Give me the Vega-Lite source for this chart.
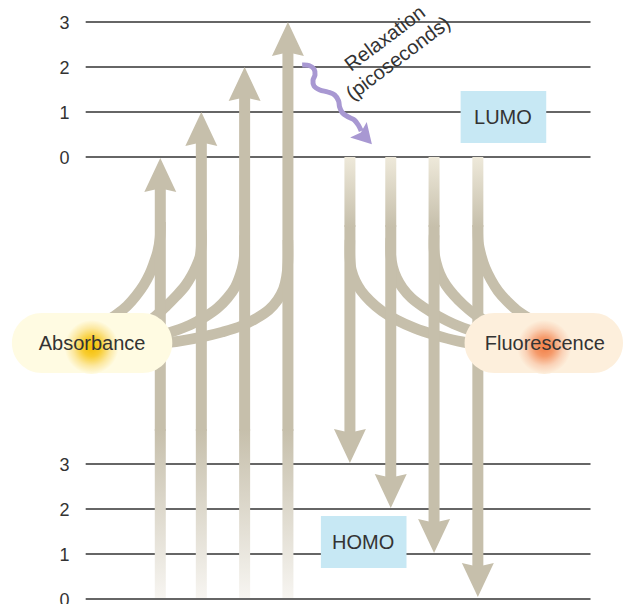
{
  "$schema": "https://vega.github.io/schema/vega-lite/v6.json",
  "width": 628,
  "height": 604,
  "autosize": {"type": "none"},
  "padding": 0,
  "background": "white",
  "config": {"view": {"stroke": null}, "font": "Liberation Sans"},
  "datasets": {
    "levels": [
      {"y": 22, "label": "3"}, {"y": 67, "label": "2"}, {"y": 112, "label": "1"}, {"y": 157, "label": "0"},
      {"y": 464, "label": "3"}, {"y": 509, "label": "2"}, {"y": 554, "label": "1"}, {"y": 599, "label": "0"}
    ],
    "curves": [
      {"c": "L1", "i": 0, "x": 158, "y": 222}, {"c": "L1", "i": 1, "x": 157.5, "y": 238}, {"c": "L1", "i": 2, "x": 155, "y": 252}, {"c": "L1", "i": 3, "x": 151, "y": 264}, {"c": "L1", "i": 4, "x": 147, "y": 274}, {"c": "L1", "i": 5, "x": 141, "y": 285}, {"c": "L1", "i": 6, "x": 133, "y": 296}, {"c": "L1", "i": 7, "x": 124, "y": 306}, {"c": "L1", "i": 8, "x": 114, "y": 314}, {"c": "L1", "i": 9, "x": 100, "y": 323},
      {"c": "L2", "i": 0, "x": 199.5, "y": 230}, {"c": "L2", "i": 1, "x": 199.5, "y": 245}, {"c": "L2", "i": 2, "x": 198, "y": 257}, {"c": "L2", "i": 3, "x": 194, "y": 267}, {"c": "L2", "i": 4, "x": 190, "y": 275}, {"c": "L2", "i": 5, "x": 183, "y": 286}, {"c": "L2", "i": 6, "x": 174, "y": 296}, {"c": "L2", "i": 7, "x": 164, "y": 306}, {"c": "L2", "i": 8, "x": 153, "y": 316}, {"c": "L2", "i": 9, "x": 140, "y": 325},
      {"c": "L3", "i": 0, "x": 243.5, "y": 235}, {"c": "L3", "i": 1, "x": 243.5, "y": 252}, {"c": "L3", "i": 2, "x": 242, "y": 264}, {"c": "L3", "i": 3, "x": 239, "y": 275}, {"c": "L3", "i": 4, "x": 234, "y": 287}, {"c": "L3", "i": 5, "x": 226, "y": 298}, {"c": "L3", "i": 6, "x": 216, "y": 308}, {"c": "L3", "i": 7, "x": 203, "y": 317}, {"c": "L3", "i": 8, "x": 188, "y": 325}, {"c": "L3", "i": 9, "x": 172, "y": 331}, {"c": "L3", "i": 10, "x": 155, "y": 336},
      {"c": "L4", "i": 0, "x": 287.5, "y": 240}, {"c": "L4", "i": 1, "x": 287.5, "y": 262}, {"c": "L4", "i": 2, "x": 286, "y": 277}, {"c": "L4", "i": 3, "x": 283, "y": 289}, {"c": "L4", "i": 4, "x": 277, "y": 300}, {"c": "L4", "i": 5, "x": 268, "y": 310}, {"c": "L4", "i": 6, "x": 256, "y": 318}, {"c": "L4", "i": 7, "x": 240, "y": 326}, {"c": "L4", "i": 8, "x": 221, "y": 332}, {"c": "L4", "i": 9, "x": 200, "y": 337}, {"c": "L4", "i": 10, "x": 178, "y": 341}, {"c": "L4", "i": 11, "x": 155, "y": 344},
      {"c": "R1", "i": 0, "x": 350.5, "y": 240}, {"c": "R1", "i": 1, "x": 350.5, "y": 258}, {"c": "R1", "i": 2, "x": 352, "y": 270}, {"c": "R1", "i": 3, "x": 356, "y": 281}, {"c": "R1", "i": 4, "x": 362, "y": 291}, {"c": "R1", "i": 5, "x": 371, "y": 301}, {"c": "R1", "i": 6, "x": 383, "y": 311}, {"c": "R1", "i": 7, "x": 398, "y": 320}, {"c": "R1", "i": 8, "x": 416, "y": 328}, {"c": "R1", "i": 9, "x": 437, "y": 335}, {"c": "R1", "i": 10, "x": 460, "y": 341}, {"c": "R1", "i": 11, "x": 485, "y": 345},
      {"c": "R2", "i": 0, "x": 392, "y": 238}, {"c": "R2", "i": 1, "x": 392, "y": 255}, {"c": "R2", "i": 2, "x": 394, "y": 267}, {"c": "R2", "i": 3, "x": 398, "y": 278}, {"c": "R2", "i": 4, "x": 404, "y": 288}, {"c": "R2", "i": 5, "x": 413, "y": 298}, {"c": "R2", "i": 6, "x": 425, "y": 307}, {"c": "R2", "i": 7, "x": 440, "y": 316}, {"c": "R2", "i": 8, "x": 456, "y": 324}, {"c": "R2", "i": 9, "x": 475, "y": 331}, {"c": "R2", "i": 10, "x": 495, "y": 336},
      {"c": "R3", "i": 0, "x": 436, "y": 235}, {"c": "R3", "i": 1, "x": 436, "y": 250}, {"c": "R3", "i": 2, "x": 438, "y": 262}, {"c": "R3", "i": 3, "x": 442, "y": 274}, {"c": "R3", "i": 4, "x": 448, "y": 285}, {"c": "R3", "i": 5, "x": 456, "y": 295}, {"c": "R3", "i": 6, "x": 466, "y": 305}, {"c": "R3", "i": 7, "x": 477, "y": 314}, {"c": "R3", "i": 8, "x": 490, "y": 322},
      {"c": "R4", "i": 0, "x": 480.5, "y": 225}, {"c": "R4", "i": 1, "x": 481, "y": 242}, {"c": "R4", "i": 2, "x": 484, "y": 256}, {"c": "R4", "i": 3, "x": 488, "y": 268}, {"c": "R4", "i": 4, "x": 494, "y": 280}, {"c": "R4", "i": 5, "x": 501, "y": 291}, {"c": "R4", "i": 6, "x": 510, "y": 301}, {"c": "R4", "i": 7, "x": 520, "y": 310}, {"c": "R4", "i": 8, "x": 532, "y": 318}
    ],
    "shaftSolid": [
      {"x": 157.8, "y": 187, "y2": 431}, {"x": 199.5, "y": 142, "y2": 431}, {"x": 243.5, "y": 97, "y2": 431}, {"x": 287.5, "y": 52, "y2": 431},
      {"x": 350.5, "y": 225, "y2": 433}, {"x": 392, "y": 225, "y2": 478}, {"x": 436, "y": 225, "y2": 523}, {"x": 480.5, "y": 225, "y2": 567}
    ],
    "shaftUpFade": [
      {"x": 157.8, "y": 429, "y2": 598}, {"x": 199.5, "y": 429, "y2": 598}, {"x": 243.5, "y": 429, "y2": 598}, {"x": 287.5, "y": 429, "y2": 598}
    ],
    "shaftDownFade": [
      {"x": 350.5, "y": 157, "y2": 227}, {"x": 392, "y": 157, "y2": 227}, {"x": 436, "y": 157, "y2": 227}, {"x": 480.5, "y": 157, "y2": 227}
    ],
    "heads": [
      {"x": 157.8, "y": 175, "dir": "up"}, {"x": 199.5, "y": 129, "dir": "up"}, {"x": 243.5, "y": 84, "dir": "up"}, {"x": 287.5, "y": 39, "dir": "up"},
      {"x": 350.5, "y": 446, "dir": "down"}, {"x": 392, "y": 491, "dir": "down"}, {"x": 436, "y": 536, "dir": "down"}, {"x": 480.5, "y": 580, "dir": "down"}
    ],
    "boxes": [
      {"name": "LUMO", "x": 463, "x2": 550, "y": 91, "y2": 143},
      {"name": "HOMO", "x": 321, "x2": 408, "y": 516, "y2": 568}
    ],
    "wave": [
      {"i": 0, "x": 302, "y": 65}, {"i": 1, "x": 309, "y": 65.5}, {"i": 2, "x": 314, "y": 69}, {"i": 3, "x": 315, "y": 75}, {"i": 4, "x": 313, "y": 80}, {"i": 5, "x": 314, "y": 86}, {"i": 6, "x": 320, "y": 90}, {"i": 7, "x": 328, "y": 92}, {"i": 8, "x": 335, "y": 95}, {"i": 9, "x": 339, "y": 101}, {"i": 10, "x": 340, "y": 107}, {"i": 11, "x": 343, "y": 113}, {"i": 12, "x": 349, "y": 117}, {"i": 13, "x": 355, "y": 120}, {"i": 14, "x": 359, "y": 125}, {"i": 15, "x": 362, "y": 131}
    ],
    "waveHead": [{"x": 366, "y": 137}],
    "relax": [
      {"text": "Relaxation", "x": 390, "y": 43.5},
      {"text": "(picoseconds)", "x": 403.5, "y": 63.5}
    ],
    "pills": [
      {"name": "Absorbance", "x": 7, "x2": 170, "y": 313, "y2": 373, "gx": 88, "gy": 347},
      {"name": "Fluorescence", "x": 467, "x2": 628, "y": 313, "y2": 373, "gx": 548, "gy": 347}
    ],
    "labels": [
      {"text": "LUMO", "x": 506, "y": 124.3},
      {"text": "HOMO", "x": 364, "y": 549.3},
      {"text": "Absorbance", "x": 88.5, "y": 350},
      {"text": "Fluorescence", "x": 548.5, "y": 350}
    ]
  },
  "layer": [
    {
      "data": {"name": "levels"},
      "mark": {"type": "rule", "color": "#333333", "strokeWidth": 1.4},
      "encoding": {
        "x": {"datum": 82, "type": "quantitative", "scale": {"domain": [0, 628], "nice": false, "zero": false}, "axis": null},
        "x2": {"datum": 595},
        "y": {"field": "y", "type": "quantitative", "scale": {"domain": [0, 604], "reverse": true, "nice": false, "zero": false}, "axis": null}
      }
    },
    {
      "data": {"name": "levels"},
      "mark": {"type": "text", "fontSize": 18, "color": "#333333", "align": "center", "baseline": "alphabetic", "dy": 6.5},
      "encoding": {
        "x": {"datum": 60.5, "type": "quantitative"},
        "y": {"field": "y", "type": "quantitative"},
        "text": {"field": "label"}
      }
    },
    {
      "data": {"name": "curves"},
      "mark": {"type": "line", "interpolate": "catmull-rom", "strokeWidth": 10.5, "color": "#c6bfab", "strokeCap": "butt"},
      "encoding": {
        "x": {"field": "x", "type": "quantitative"},
        "y": {"field": "y", "type": "quantitative"},
        "detail": {"field": "c"},
        "order": {"field": "i", "type": "quantitative"}
      }
    },
    {
      "data": {"name": "shaftSolid"},
      "mark": {"type": "bar", "size": 11, "color": "#c6bfab"},
      "encoding": {
        "x": {"field": "x", "type": "quantitative"},
        "y": {"field": "y", "type": "quantitative"},
        "y2": {"field": "y2"}
      }
    },
    {
      "data": {"name": "shaftUpFade"},
      "mark": {"type": "bar", "size": 11, "color": {"gradient": "linear", "x1": 0, "y1": 0, "x2": 0, "y2": 1, "stops": [{"offset": 0, "color": "#c6bfab"}, {"offset": 1, "color": "#f7f5f1"}]}},
      "encoding": {
        "x": {"field": "x", "type": "quantitative"},
        "y": {"field": "y", "type": "quantitative"},
        "y2": {"field": "y2"}
      }
    },
    {
      "data": {"name": "shaftDownFade"},
      "mark": {"type": "bar", "size": 11, "color": {"gradient": "linear", "x1": 0, "y1": 0, "x2": 0, "y2": 1, "stops": [{"offset": 0, "color": "#eee9da"}, {"offset": 1, "color": "#c6bfab"}]}},
      "encoding": {
        "x": {"field": "x", "type": "quantitative"},
        "y": {"field": "y", "type": "quantitative"},
        "y2": {"field": "y2"}
      }
    },
    {
      "data": {"name": "heads"},
      "mark": {"type": "point", "filled": true, "opacity": 1, "size": 1156, "color": "#c6bfab"},
      "encoding": {
        "x": {"field": "x", "type": "quantitative"},
        "y": {"field": "y", "type": "quantitative"},
        "shape": {"field": "dir", "type": "nominal", "legend": null, "scale": {"domain": ["up", "down"], "range": ["M0,-1L0.94,1L0.3,0.86L-0.3,0.86L-0.94,1Z", "M0,1L0.94,-1L0.3,-0.86L-0.3,-0.86L-0.94,-1Z"]}}
      }
    },
    {
      "data": {"name": "boxes"},
      "mark": {"type": "rect", "color": "#c7e8f4"},
      "encoding": {
        "x": {"field": "x", "type": "quantitative"},
        "x2": {"field": "x2"},
        "y": {"field": "y", "type": "quantitative"},
        "y2": {"field": "y2"}
      }
    },
    {
      "data": {"name": "wave"},
      "mark": {"type": "line", "interpolate": "catmull-rom", "strokeWidth": 5, "color": "#a898d2", "strokeCap": "butt"},
      "encoding": {
        "x": {"field": "x", "type": "quantitative"},
        "y": {"field": "y", "type": "quantitative"},
        "order": {"field": "i", "type": "quantitative"}
      }
    },
    {
      "data": {"name": "waveHead"},
      "mark": {"type": "point", "filled": true, "opacity": 1, "size": 515, "angle": 137, "color": "#a898d2", "shape": "M0,-0.87L1,0.87L0,0.55L-1,0.87Z"},
      "encoding": {
        "x": {"field": "x", "type": "quantitative"},
        "y": {"field": "y", "type": "quantitative"}
      }
    },
    {
      "data": {"name": "relax"},
      "mark": {"type": "text", "fontSize": 20, "color": "#333333", "align": "center", "baseline": "alphabetic", "angle": -37},
      "encoding": {
        "x": {"field": "x", "type": "quantitative"},
        "y": {"field": "y", "type": "quantitative"},
        "text": {"field": "text"}
      }
    },
    {
      "data": {"name": "pills"},
      "mark": {"type": "rect", "cornerRadius": 30},
      "encoding": {
        "x": {"field": "x", "type": "quantitative"},
        "x2": {"field": "x2"},
        "y": {"field": "y", "type": "quantitative"},
        "y2": {"field": "y2"},
        "color": {"field": "name", "type": "nominal", "legend": null, "scale": {"domain": ["Absorbance", "Fluorescence"], "range": ["#fffbe2", "#fdefdc"]}}
      }
    },
    {
      "data": {"name": "pills"},
      "transform": [{"filter": "datum.name === 'Absorbance'"}],
      "mark": {"type": "point", "shape": "circle", "filled": true, "opacity": 1, "size": 2916, "color": {"gradient": "radial", "x1": 0.5, "y1": 0.5, "r1": 0, "x2": 0.5, "y2": 0.5, "r2": 0.5, "stops": [{"offset": 0, "color": "#f5be00"}, {"offset": 0.35, "color": "#f8cd32"}, {"offset": 0.7, "color": "#fce8a0"}, {"offset": 1, "color": "#fffbe2"}]}},
      "encoding": {
        "x": {"field": "gx", "type": "quantitative"},
        "y": {"field": "gy", "type": "quantitative"}
      }
    },
    {
      "data": {"name": "pills"},
      "transform": [{"filter": "datum.name === 'Fluorescence'"}],
      "mark": {"type": "point", "shape": "circle", "filled": true, "opacity": 1, "size": 2916, "color": {"gradient": "radial", "x1": 0.5, "y1": 0.5, "r1": 0, "x2": 0.5, "y2": 0.5, "r2": 0.5, "stops": [{"offset": 0, "color": "#f27e45"}, {"offset": 0.35, "color": "#f59a6a"}, {"offset": 0.7, "color": "#fad2b7"}, {"offset": 1, "color": "#fdefdc"}]}},
      "encoding": {
        "x": {"field": "gx", "type": "quantitative"},
        "y": {"field": "gy", "type": "quantitative"}
      }
    },
    {
      "data": {"name": "labels"},
      "mark": {"type": "text", "fontSize": 20, "color": "#333333", "align": "center", "baseline": "alphabetic"},
      "encoding": {
        "x": {"field": "x", "type": "quantitative"},
        "y": {"field": "y", "type": "quantitative"},
        "text": {"field": "text"}
      }
    }
  ]
}
